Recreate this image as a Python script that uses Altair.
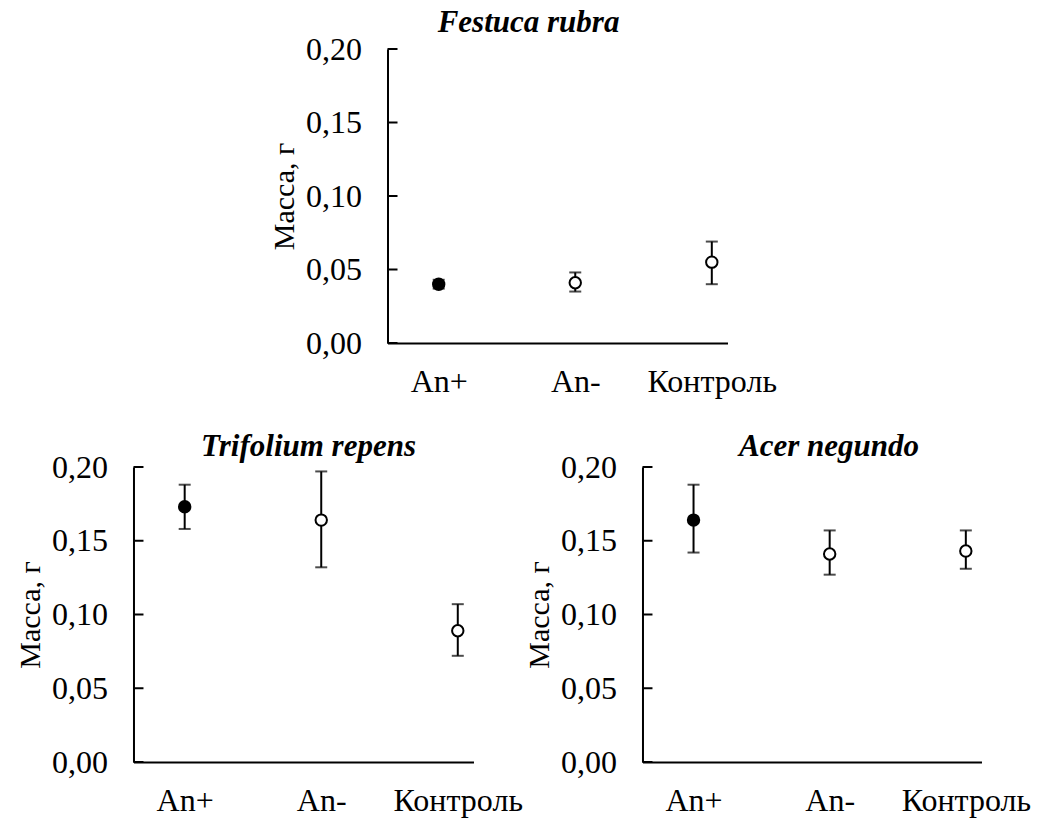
import altair as alt
import pandas as pd

categories = ["An+", "An-", "Контроль"]
positions = [1, 2, 3]
ticks = [0.0, 0.05, 0.10, 0.15, 0.20]

festuca_mean = [0.040, 0.041, 0.055]
festuca_lo = [0.037, 0.035, 0.040]
festuca_hi = [0.043, 0.048, 0.069]

trifolium_mean = [0.173, 0.164, 0.089]
trifolium_lo = [0.158, 0.132, 0.072]
trifolium_hi = [0.188, 0.197, 0.107]

acer_mean = [0.164, 0.141, 0.143]
acer_lo = [0.142, 0.127, 0.131]
acer_hi = [0.188, 0.157, 0.157]

FONT = "Liberation Serif"
LFS = 32
TFS = 30
HFS = 31

label_expr = "datum.value == 1 ? '%s' : datum.value == 2 ? '%s' : '%s'" % tuple(categories)


def panel(title, means, lo, hi, dx, w, h, toff):
    df = pd.DataFrame({"pos": positions, "cat": categories, "mean": means, "lo": lo, "hi": hi})
    tdf = pd.DataFrame({"t": ticks})
    xs = alt.Scale(domain=[0.625, 3.115], nice=False, zero=False)
    ys = alt.Scale(domain=[0, 0.2], nice=False)
    xax = alt.Axis(values=positions, labelExpr=label_expr, ticks=False, grid=False,
                   domainColor="black", domainWidth=2, labelFont=FONT, labelFontSize=LFS,
                   labelColor="black", labelPadding=23, title=None, labelFlush=False,
                   labelOverlap=False)
    yax = alt.Axis(values=ticks, format=".2f", labelExpr="replace(datum.label, '.', ',')",
                   ticks=False, grid=False, domainColor="black", domainWidth=2,
                   labelFont=FONT, labelFontSize=LFS, labelColor="black", labelPadding=26,
                   title="Масса, г", titleFont=FONT, titleFontSize=TFS, titleFontWeight="normal",
                   titleColor="black", titlePadding=6, labelFlush=False)
    base = alt.Chart(df)
    bars = base.mark_rule(color="black", strokeWidth=2).encode(
        x=alt.X("pos:Q", scale=xs, axis=xax),
        y=alt.Y("lo:Q", scale=ys, axis=yax),
        y2="hi:Q",
    )
    caps_lo = base.mark_tick(color="black", orient="horizontal", size=12, thickness=2).encode(
        x="pos:Q", y="lo:Q")
    caps_hi = base.mark_tick(color="black", orient="horizontal", size=12, thickness=2).encode(
        x="pos:Q", y="hi:Q")
    pts = base.mark_point(filled=False, shape="circle", size=130, stroke="black",
                          strokeWidth=2, opacity=1).encode(
        x="pos:Q", y="mean:Q",
        fill=alt.Fill("cat:N", scale=alt.Scale(domain=categories, range=["black", "white", "white"]),
                      legend=None),
    )
    tk = alt.Chart(tdf).mark_rule(color="black", strokeWidth=2).encode(
        x=alt.value(0), x2=alt.value(10), y=alt.Y("t:Q", scale=ys))
    return alt.layer(tk, bars, caps_lo, caps_hi, pts).properties(
        width=w, height=h,
        title=alt.TitleParams(title, font=FONT, fontSize=HFS, fontStyle="italic",
                              fontWeight="bold", color="black", dx=dx, offset=toff),
    )


top = panel("Festuca rubra", festuca_mean, festuca_lo, festuca_hi, -29, 340, 294, -6)
left = panel("Trifolium repens", trifolium_mean, trifolium_lo, trifolium_hi, 5, 340, 295, -12)
right = panel("Acer negundo", acer_mean, acer_lo, acer_hi, 17, 339, 295, -12)

chart = alt.vconcat(
    top,
    alt.hconcat(left, right, spacing=2),
    spacing=34,
    center=True,
).properties(
    padding={"left": 15, "top": 7, "right": 5, "bottom": 5},
).configure(background="white").configure_view(stroke=None)

chart.save("out.html", embed_options={"renderer": "svg", "actions": False})
